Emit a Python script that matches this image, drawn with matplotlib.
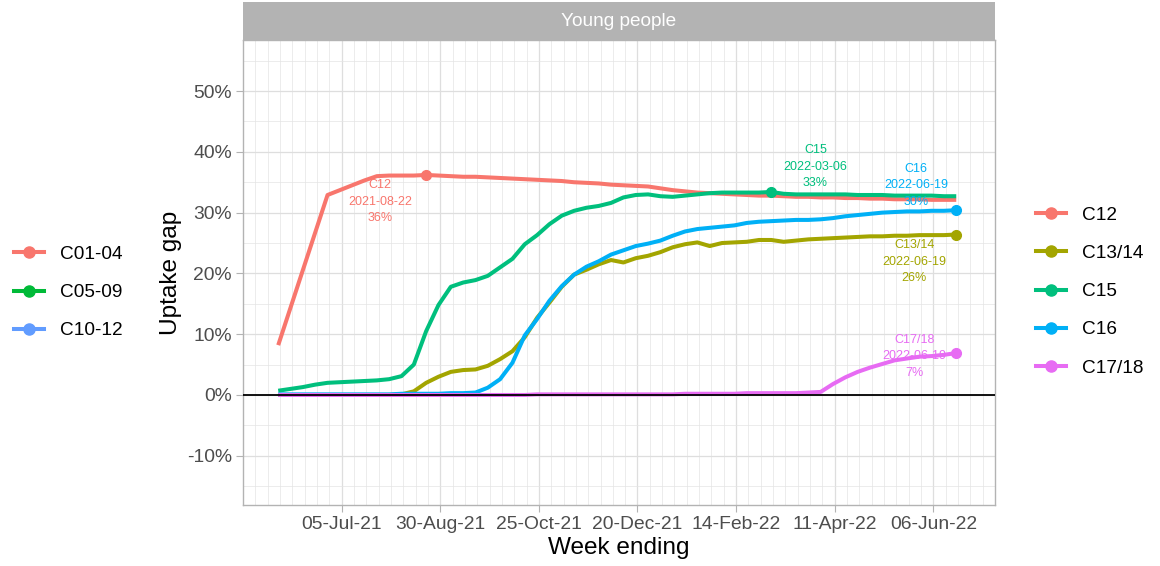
import numpy as np
import pandas as pd
import matplotlib
matplotlib.use("Agg")
from matplotlib import pyplot as plt
from matplotlib.lines import Line2D
import matplotlib.dates as mdates
from matplotlib.ticker import FuncFormatter, MultipleLocator

plt.rcParams['font.family'] = ['Liberation Sans', 'DejaVu Sans']

# weekly data, week ending Sunday
week_ending = pd.date_range("2021-05-30", periods=56, freq="7D")

c12 = [8.2, None, None, None, 32.9, 33.7, 34.5, 35.3,
       36.0, 36.1, 36.1, 36.1, 36.2, 36.1, 36.0, 35.9,
       35.9, 35.8, 35.7, 35.6, 35.5, 35.4, 35.3, 35.2,
       35.0, 34.9, 34.8, 34.6, 34.5, 34.4, 34.3, 34.0,
       33.7, 33.5, 33.3, 33.2, 33.1, 33.0, 32.9, 32.8,
       32.8, 32.7, 32.6, 32.6, 32.5, 32.5, 32.4, 32.4,
       32.3, 32.3, 32.2, 32.2, 32.2, 32.1, 32.1, 32.1]
c13_14 = [0.0, 0.0, 0.0, 0.0, 0.0, 0.0, 0.0, 0.0,
          0.0, 0.0, 0.1, 0.6, 2.0, 3.0, 3.8, 4.1,
          4.2, 4.8, 5.9, 7.2, 9.5, 12.7, 15.2, 17.8,
          19.8, 20.6, 21.5, 22.2, 21.8, 22.5, 22.9, 23.5,
          24.3, 24.8, 25.1, 24.5, 25.0, 25.1, 25.2, 25.5,
          25.5, 25.2, 25.4, 25.6, 25.7, 25.8, 25.9, 26.0,
          26.1, 26.1, 26.2, 26.2, 26.3, 26.3, 26.3, 26.4]
c15 = [0.7, 1.0, 1.3, 1.7, 2.0, 2.1, 2.2, 2.3,
       2.4, 2.6, 3.1, 5.0, 10.5, 14.8, 17.8, 18.5,
       18.9, 19.6, 21.0, 22.4, 24.8, 26.3, 28.1, 29.5,
       30.3, 30.8, 31.1, 31.6, 32.5, 32.9, 33.0, 32.7,
       32.6, 32.8, 33.0, 33.2, 33.3, 33.3, 33.3, 33.3,
       33.4, 33.1, 33.0, 33.0, 33.0, 33.0, 33.0, 32.9,
       32.9, 32.9, 32.8, 32.8, 32.8, 32.8, 32.7, 32.7]
c16 = [0.1, 0.1, 0.1, 0.1, 0.1, 0.1, 0.1, 0.1,
       0.1, 0.1, 0.2, 0.2, 0.2, 0.2, 0.3, 0.3,
       0.4, 1.2, 2.6, 5.3, 9.8, 12.5, 15.5, 17.9,
       19.8, 21.1, 22.0, 23.1, 23.8, 24.5, 24.9, 25.4,
       26.2, 26.9, 27.3, 27.5, 27.7, 27.9, 28.3, 28.5,
       28.6, 28.7, 28.8, 28.8, 28.9, 29.1, 29.4, 29.6,
       29.8, 30.0, 30.1, 30.2, 30.2, 30.3, 30.3, 30.4]
c17_18 = [0.0, 0.0, 0.0, 0.0, 0.0, 0.0, 0.0, 0.0,
          0.0, 0.0, 0.0, 0.0, 0.0, 0.0, 0.0, 0.0,
          0.0, 0.0, 0.0, 0.0, 0.0, 0.1, 0.1, 0.1,
          0.1, 0.1, 0.1, 0.1, 0.1, 0.1, 0.1, 0.1,
          0.1, 0.2, 0.2, 0.2, 0.2, 0.2, 0.3, 0.3,
          0.3, 0.3, 0.3, 0.4, 0.5, 1.8, 2.9, 3.8,
          4.5, 5.1, 5.7, 6.0, 6.3, 6.4, 6.6, 6.9]

series_names = ["C12", "C13/14", "C15", "C16", "C17/18"]
series_values = [c12, c13_14, c15, c16, c17_18]
series_colours = ["#F8766D", "#A3A500", "#00BF7D", "#00B0F6", "#E76BF3"]

# other facet's legend (not drawn in this panel)
other_names = ["C01-04", "C05-09", "C10-12"]
other_colours = ["#F8766D", "#00BA38", "#619CFF"]

x_breaks = ["2021-07-05", "2021-08-30", "2021-10-25", "2021-12-20",
            "2022-02-14", "2022-04-11", "2022-06-06"]
y_breaks = [-10, 0, 10, 20, 30, 40, 50]

# label offsets (pixels) for peak annotations
label_offsets = {"C12": (-46, -27), "C13/14": (-42, -27), "C15": (44, 25),
                 "C16": (-40, 25), "C17/18": (-42, -3)}

W, H = 1160, 566
fig = plt.figure(figsize=(W / 100, H / 100), dpi=100)
ax = fig.add_axes([243 / W, 1 - 505 / H, (995 - 243) / W, (505 - 40) / H])
strip = fig.add_axes([243 / W, 1 - 40 / H, (995 - 243) / W, 38 / H])

for name, vals, col in zip(series_names, series_values, series_colours):
    s = pd.Series(vals, index=week_ending, dtype=float).dropna()
    ax.plot(s.index, s.values, color=col, lw=2.9, solid_capstyle='butt', zorder=3)

for name, vals, col in zip(series_names, series_values, series_colours):
    s = pd.Series(vals, index=week_ending, dtype=float).dropna()
    d = s.idxmax()
    v = s.max()
    ax.plot([d], [v], 'o', color=col, ms=7, zorder=4)
    ax.annotate(f"{name}\n{d:%Y-%m-%d}\n{v:.0f}%", xy=(d, v),
                xytext=label_offsets[name], textcoords='offset pixels',
                ha='center', va='center', color=col, fontsize=9,
                linespacing=1.5, zorder=6)

ax.axhline(0, color='black', lw=1.3, zorder=5)

# axes / scales
xn = mdates.date2num(week_ending)
span = xn.max() - xn.min()
ax.set_xlim(xn.min() - 0.05 * span, xn.max() + 0.05 * span)
ax.set_ylim(-18.1, 58.4)
ax.set_xticks(mdates.date2num(pd.to_datetime(x_breaks)))
ax.xaxis.set_major_formatter(mdates.DateFormatter("%d-%b-%y"))
minor_x = pd.date_range("2021-05-10", "2022-07-11", freq="7D")
ax.set_xticks(mdates.date2num(minor_x), minor=True)
ax.set_yticks(y_breaks)
ax.yaxis.set_minor_locator(MultipleLocator(5))
ax.yaxis.set_major_formatter(FuncFormatter(lambda v, p: f"{v:.0f}%"))

ax.grid(which='major', color='#DEDEDE', lw=0.9)
ax.grid(which='minor', color='#E4E4E4', lw=0.5)
ax.set_axisbelow(True)
for sp in ax.spines.values():
    sp.set_color('#B3B3B3')
    sp.set_linewidth(1.0)
ax.tick_params(which='major', length=5, width=0.8, color='#B3B3B3',
               labelcolor='#4D4D4D', labelsize=13.9, pad=3)
ax.tick_params(which='minor', length=0)

ax.set_xlabel("Week ending", fontsize=17.6, color='black')
ax.set_ylabel("Uptake gap", fontsize=17.6, color='black')
ax.xaxis.set_label_coords(0.5, -0.068)
ax.yaxis.set_label_coords(-0.081, 0.5)

# facet strip
strip.set_facecolor('#B3B3B3')
strip.set_xticks([])
strip.set_yticks([])
for sp in strip.spines.values():
    sp.set_visible(False)
strip.text(0.5, 0.5, "Young people", color='white', fontsize=13.7,
           ha='center', va='center', transform=strip.transAxes)

# legends
def handles(cols):
    return [Line2D([], [], color=c, lw=2.9, marker='o', ms=8) for c in cols]

leg_kw = dict(frameon=False, fontsize=13.7, handlelength=1.56,
              handletextpad=0.87, labelspacing=1.1, borderpad=0,
              borderaxespad=0, loc='center left')
fig.legend(handles(other_colours), other_names,
           bbox_to_anchor=(14 / W, 1 - 292.5 / H), **leg_kw)
fig.legend(handles(series_colours), series_names,
           bbox_to_anchor=(1036 / W, 1 - 291.5 / H), **leg_kw)

fig.savefig("out.png", dpi=100)
